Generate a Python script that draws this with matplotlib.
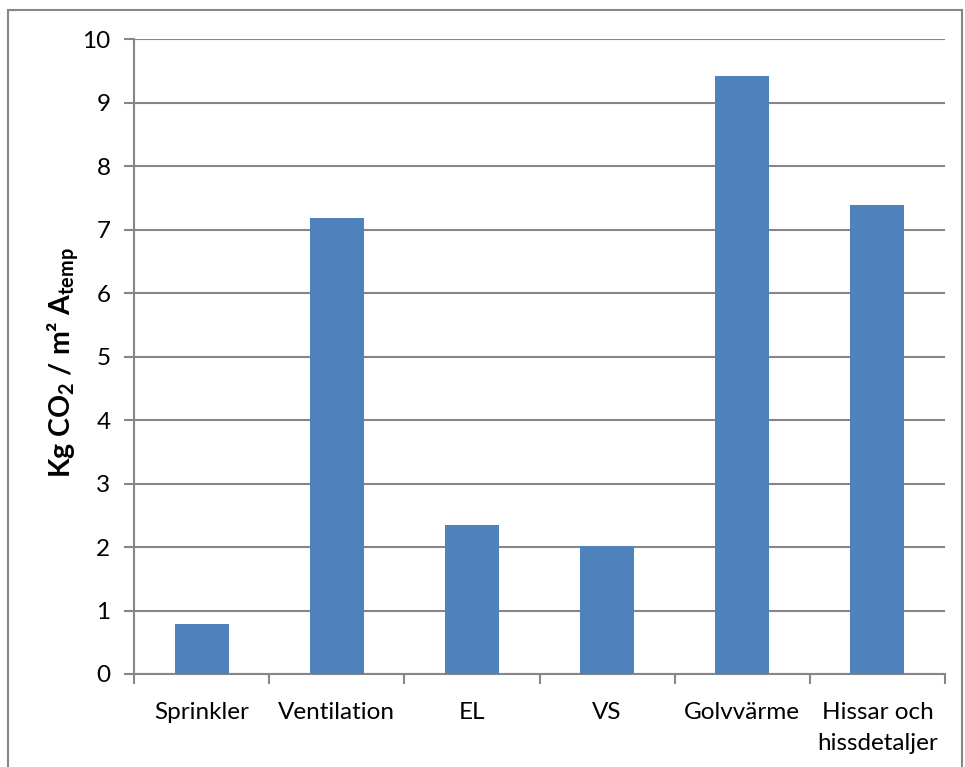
import matplotlib
matplotlib.use("Agg")
import matplotlib.pyplot as plt
import numpy as np
from matplotlib.patches import Rectangle

categories = ["Sprinkler", "Ventilation", "EL", "VS", "Golvvärme", "Hissar och\nhissdetaljer"]
values = [0.78, 7.18, 2.34, 2.01, 9.41, 7.38]

plt.rcParams['font.family'] = ['Lato', 'DejaVu Sans']
plt.rcParams['mathtext.fontset'] = 'custom'
plt.rcParams['mathtext.rm'] = 'Lato'
plt.rcParams['mathtext.bf'] = 'Lato:bold'
plt.rcParams['mathtext.default'] = 'bf'

fig = plt.figure(figsize=(9.65, 7.67), dpi=100)
ax = fig.add_axes([134/965, 1-674/767, (945-134)/965, (674-39)/767])

# outer chart frame
fig.patches.append(Rectangle((8/965, -0.05), (962-8)/965, 1-10/767+0.05,
                             transform=fig.transFigure, fill=False,
                             edgecolor='#868686', linewidth=1.5))

x = np.arange(len(categories))
ax.bar(x, values, width=0.4, color='#4F81BD', zorder=3)

ax.set_xlim(-0.5, len(categories) - 0.5)
ax.set_ylim(0, 10)
ax.set_yticks(range(0, 11))
ax.set_xticks(x)
ax.set_xticklabels(categories, fontsize=17.5, linespacing=1.6)
ax.set_xticks(np.arange(-0.5, len(categories)), minor=True)
ax.tick_params(axis='x', which='major', length=0, pad=20)
ax.tick_params(axis='x', which='minor', length=7, width=1.5, color='#868686')
ax.tick_params(axis='y', length=7, width=1.5, color='#868686', labelsize=17.5, pad=10)

ax.grid(axis='y', color='#868686', linewidth=1.5, zorder=0)
for s in ['top', 'right']:
    ax.spines[s].set_visible(False)
for s in ['left', 'bottom']:
    ax.spines[s].set_color('#868686')
    ax.spines[s].set_linewidth(1.5)

ax.set_ylabel(r'Kg CO$_{2}$ / m² A$_{temp}$', fontsize=20.5, fontweight='bold')
ax.yaxis.set_label_coords(-53/811, 0.49)

fig.savefig("out.png", dpi=100)
